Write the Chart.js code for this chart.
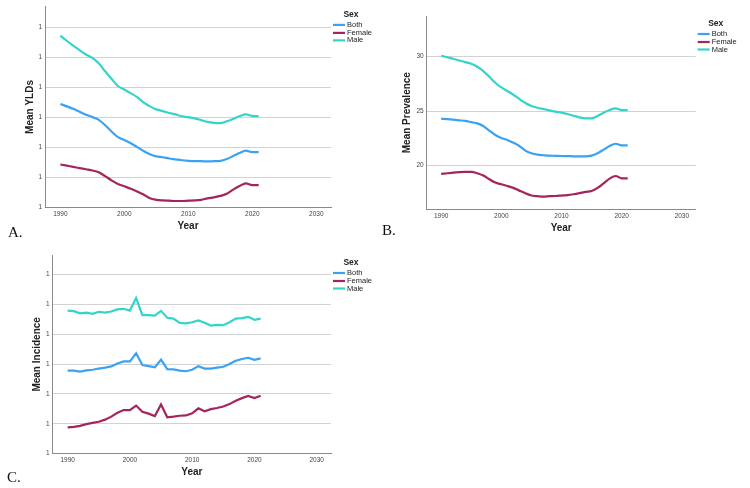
<!DOCTYPE html>
<html><head><meta charset="utf-8">
<script src="https://cdn.jsdelivr.net/npm/chart.js@4.4.1/dist/chart.umd.min.js"></script>
<style>
body{margin:0;background:#fff;width:750px;height:488px;position:relative;overflow:hidden}
canvas{position:absolute}
.lbl{position:absolute;font-family:'Liberation Serif','Times New Roman',serif;font-size:15px;color:#111;line-height:1}
</style></head><body>
<canvas id="cA" width="375" height="240" style="left:0;top:0"></canvas>
<canvas id="cB" width="375" height="240" style="left:375px;top:0"></canvas>
<canvas id="cC" width="375" height="248" style="left:0;top:240px"></canvas>
<div class="lbl" style="left:8px;top:225px">A.</div>
<div class="lbl" style="left:382px;top:223px">B.</div>
<div class="lbl" style="left:7px;top:470px">C.</div>
<script>
const years = [1990,1991,1992,1993,1994,1995,1996,1997,1998,1999,2000,2001,2002,2003,2004,2005,2006,2007,2008,2009,2010,2011,2012,2013,2014,2015,2016,2017,2018,2019,2020,2021];
const seriesNames = ['Both','Female','Male'];
const seriesColors = ['#3aa2f3','#a3255c','#33d4c9'];
const xTicks = [1990,2000,2010,2020,2030];

// A. Mean YLDs
const yldBoth   = [1.344,1.336,1.328,1.318,1.308,1.300,1.291,1.273,1.252,1.233,1.224,1.213,1.200,1.187,1.176,1.169,1.166,1.162,1.159,1.156,1.154,1.153,1.153,1.152,1.153,1.154,1.160,1.170,1.180,1.188,1.183,1.183];
const yldFemale = [1.142,1.138,1.134,1.130,1.126,1.122,1.116,1.103,1.089,1.077,1.069,1.061,1.052,1.042,1.029,1.024,1.022,1.021,1.020,1.020,1.021,1.022,1.024,1.029,1.032,1.037,1.044,1.058,1.070,1.079,1.073,1.073];
const yldMale   = [1.572,1.555,1.539,1.524,1.509,1.498,1.480,1.453,1.428,1.404,1.392,1.380,1.367,1.349,1.336,1.326,1.320,1.314,1.309,1.303,1.300,1.296,1.290,1.284,1.281,1.280,1.286,1.294,1.303,1.309,1.304,1.303];
const yldTicks = [1.0,1.1,1.2,1.3,1.4,1.5,1.6];
const yldTickLabels = ['1','1','1','1','1','1','1'];

// B. Mean Prevalence
const prevBoth   = [24.30,24.26,24.21,24.15,24.09,23.98,23.87,23.63,23.20,22.80,22.53,22.35,22.10,21.80,21.37,21.13,21.00,20.95,20.91,20.90,20.88,20.87,20.85,20.85,20.85,20.91,21.13,21.46,21.80,22.00,21.86,21.86];
const prevFemale = [19.24,19.30,19.36,19.40,19.42,19.42,19.30,19.09,18.75,18.45,18.29,18.14,17.96,17.71,17.47,17.26,17.20,17.16,17.20,17.22,17.26,17.30,17.38,17.48,17.59,17.68,17.96,18.38,18.81,19.05,18.84,18.84];
const prevMale   = [30.06,29.92,29.79,29.63,29.48,29.33,29.05,28.66,28.14,27.59,27.16,26.83,26.49,26.10,25.73,25.46,25.30,25.18,25.06,24.94,24.85,24.73,24.57,24.42,24.33,24.33,24.54,24.85,25.09,25.24,25.09,25.09];
const prevTicks = [20,25,30];
const prevTickLabels = ['20','25','30'];

// C. Mean Incidence
const incBoth   = [1.278,1.278,1.275,1.279,1.281,1.285,1.288,1.292,1.302,1.309,1.309,1.336,1.297,1.293,1.289,1.315,1.283,1.282,1.278,1.276,1.281,1.293,1.285,1.285,1.288,1.291,1.300,1.311,1.317,1.321,1.314,1.319];
const incFemale = [1.088,1.090,1.093,1.099,1.103,1.107,1.114,1.124,1.137,1.146,1.146,1.161,1.140,1.134,1.126,1.165,1.122,1.124,1.127,1.128,1.135,1.152,1.142,1.149,1.153,1.158,1.166,1.177,1.186,1.193,1.186,1.194];
const incMale   = [1.479,1.477,1.470,1.472,1.468,1.475,1.472,1.476,1.483,1.485,1.479,1.521,1.464,1.464,1.462,1.478,1.455,1.452,1.438,1.436,1.440,1.446,1.438,1.429,1.431,1.430,1.440,1.452,1.454,1.458,1.448,1.452];
const incTicks = [1.0,1.1,1.2,1.3,1.4,1.5,1.6];
const incTickLabels = ['1','1','1','1','1','1','1'];

Chart.defaults.font.family = "'Liberation Sans', Arial, sans-serif";

const sexLegend = {
  id: 'sexLegend',
  afterDraw(chart) {
    const ctx = chart.ctx, a = chart.chartArea;
    const x0 = a.right + 2;
    ctx.save();
    ctx.textBaseline = 'middle';
    ctx.font = "bold 8.5px 'Liberation Sans', Arial, sans-serif";
    ctx.fillStyle = '#222';
    ctx.textAlign = 'center';
    ctx.fillText('Sex', x0 + 18, a.top + 7.5);
    ctx.textAlign = 'left';
    ctx.font = "7.5px 'Liberation Sans', Arial, sans-serif";
    const offs = [18, 26, 33.5];
    chart.data.datasets.forEach((ds, i) => {
      const y = a.top + offs[i];
      ctx.strokeStyle = ds.borderColor;
      ctx.lineWidth = 2.2;
      ctx.beginPath(); ctx.moveTo(x0, y); ctx.lineTo(x0 + 12, y); ctx.stroke();
      ctx.fillStyle = '#222';
      ctx.fillText(ds.label, x0 + 14, y);
    });
    ctx.restore();
  }
};

function build(id, g, series, yTicks, yLabels, yMin, yMax, yTitle, smooth) {
  const labelMap = {};
  yTicks.forEach((t, i) => labelMap[t.toFixed(3)] = yLabels[i]);
  return new Chart(document.getElementById(id), {
    type: 'line',
    data: {
      datasets: series.map((s, i) => ({
        label: seriesNames[i],
        data: years.map((yr, k) => ({x: yr, y: s[k]})),
        borderColor: seriesColors[i],
        backgroundColor: seriesColors[i],
        borderWidth: 2.2,
        pointRadius: 0,
        tension: smooth ? 0.4 : 0,
        cubicInterpolationMode: smooth ? 'monotone' : 'default',
        fill: false
      }))
    },
    options: {
      responsive: false,
      animation: false,
      devicePixelRatio: 1,
      layout: {padding: {left: 0, top: g.top, right: g.right, bottom: 0}},
      plugins: {legend: {display: false}, tooltip: {enabled: false}},
      scales: {
        x: {
          type: 'linear', min: 1987.6, max: 2032.3,
          afterBuildTicks: s => { s.ticks = xTicks.map(v => ({value: v})); },
          afterFit: s => { s.height = g.xH; },
          grid: {display: false, drawTicks: false},
          border: {display: true, color: '#8a8a8a', width: 1},
          ticks: {padding: 3, color: '#444', font: {size: 6.5}, callback: v => String(v), maxRotation: 0},
          title: {display: true, text: 'Year', color: '#222', font: {size: 10, weight: 'bold'}, padding: {top: 0, bottom: g.xTitlePad - 0.6}}
        },
        y: {
          type: 'linear', min: yMin, max: yMax,
          afterBuildTicks: s => { s.ticks = yTicks.map(v => ({value: v})); },
          afterFit: s => { s.width = g.yW; },
          grid: {display: true, color: '#d2d2d2', lineWidth: 1, drawTicks: false},
          border: {display: true, color: '#8a8a8a', width: 1},
          ticks: {padding: 3, color: '#444', font: {size: 6.5}, callback: v => labelMap[Number(v).toFixed(3)] ?? ''},
          title: {display: true, text: yTitle, color: '#222', font: {size: 10, weight: 'bold'}, padding: {top: g.yTitlePad - 0.6, bottom: 0}}
        }
      }
    },
    plugins: [sexLegend]
  });
}

build('cA', {yW: 45, top: 6, right: 44, xH: 33, yTitlePad: 24.6, xTitlePad: 7.9},
  [yldBoth, yldFemale, yldMale], yldTicks, yldTickLabels, 1.0, 1.668, 'Mean YLDs', true);
build('cB', {yW: 51.7, top: 16, right: 54.3, xH: 30.7, yTitlePad: 26.9, xTitlePad: 5.9},
  [prevBoth, prevFemale, prevMale], prevTicks, prevTickLabels, 16, 33.7, 'Mean Prevalence', true);
build('cC', {yW: 52.7, top: 15, right: 44, xH: 34.3, yTitlePad: 32.3, xTitlePad: 10.3},
  [incBoth, incFemale, incMale], incTicks, incTickLabels, 1.0, 1.665, 'Mean Incidence', false);
</script>
</body></html>
